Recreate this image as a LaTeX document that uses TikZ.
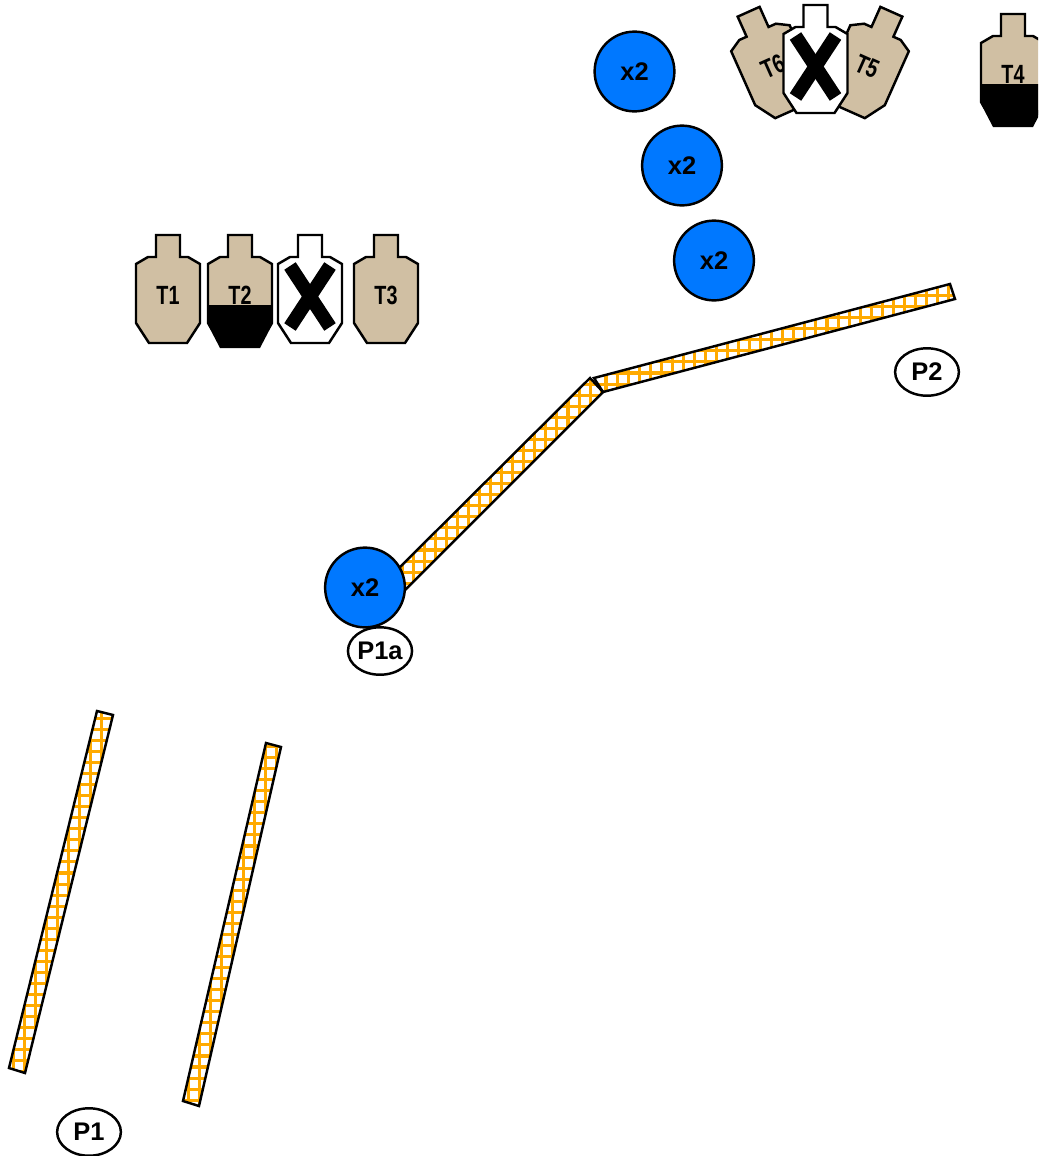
\documentclass[tikz,border=0pt]{standalone}
\usepackage{fontspec}
\setmainfont{Liberation Sans}
\usepackage{tikz}
\definecolor{targettan}{HTML}{D0BFA3}
\definecolor{barrelblue}{HTML}{0078FF}
\definecolor{wallorange}{HTML}{FFAA00}
\tikzset{
  outline/.style={draw=black,line width=1.4pt,line join=miter},
  barrel/.style={circle,outline,fill=barrelblue,minimum size=45.4pt,inner sep=0pt,font=\bfseries\fontsize{14.5}{15}\selectfont},
  position/.style={ellipse,outline,fill=white,minimum width=36.3pt,minimum height=27pt,inner sep=0pt,font=\bfseries\fontsize{14.5}{15}\selectfont},
  targetlabel/.style={inner sep=0pt,transform shape,font=\bfseries\fontsize{15}{16}\selectfont},
  wallgrid/.style={wallorange,line width=1.75pt},
}
\usetikzlibrary{shapes.geometric}
\newcommand{\targetshape}{(-12,-55) -- (12,-55) -- (12,-33) -- (20,-33) -- (32,-26) -- (32,33) -- (19,53) -- (-19,53) -- (-32,33) -- (-32,-26) -- (-20,-33) -- (-12,-33) -- cycle}
\newcommand{\blackshape}{(-32,15) -- (32,15) -- (32,35) -- (20,58) -- (-20,58) -- (-32,35) -- cycle}
\newcommand{\wallstrip}[3]{%
  \begin{scope}
    \clip #3;
    \begin{scope}[shift={(#1,#2)}]
      \foreach \gk in {-40,...,40} {
        \draw[wallgrid] ({\gk*11.05},-1500) -- ({\gk*11.05},1500);
        \draw[wallgrid] (-1500,{\gk*11.05}) -- (1500,{\gk*11.05});
      }
    \end{scope}
  \end{scope}
  \draw[outline] #3;}
\newcommand{\crossmark}{%
  \draw[line width=7.8pt] (-20,-24) -- (20,37);
  \draw[line width=7.8pt] (20,-24) -- (-20,37);}

\begin{document}
\begin{tikzpicture}[x=0.02cm,y=-0.02cm]
\clip (0,0) rectangle (1038,1156);

% Walls
\wallstrip{90.7}{718.3}{(97,711) -- (113,715) -- (25,1073) -- (9,1068) -- cycle}
\wallstrip{188.5}{1067}{(266,743) -- (281,747) -- (199,1106) -- (183,1101) -- cycle}
\wallstrip{413.3}{550}{(590,378) -- (603,392) -- (405,590) -- (391,576) -- cycle}
\wallstrip{606}{373}{(594,378) -- (950,284) -- (955,299) -- (603,392) -- cycle}

% Left targets
\begin{scope}[shift={(168,290)}]
\draw[outline,fill=targettan] \targetshape;
\node[targetlabel] (t1) at (0,5) {\scalebox{.75}[1]{T1}};
\end{scope}
\begin{scope}[shift={(240,290)}]
\draw[outline,fill=targettan] \targetshape;
\node[targetlabel] (t2) at (0,5) {\scalebox{.75}[1]{T2}};
\fill[black] \blackshape;
\end{scope}
\begin{scope}[shift={(310,290)}]
\draw[outline,fill=white] \targetshape;
\crossmark
\end{scope}
\begin{scope}[shift={(386,290)}]
\draw[outline,fill=targettan] \targetshape;
\node[targetlabel] (t3) at (0,5) {\scalebox{.75}[1]{T3}};
\end{scope}

% Top targets
\begin{scope}[shift={(771,62)},rotate=24]
\draw[outline,fill=targettan] \targetshape;
\node[targetlabel] (t6) at (0,5) {\scalebox{.75}[1]{T6}};
\end{scope}
\begin{scope}[shift={(869,62)},rotate=-24]
\draw[outline,fill=targettan] \targetshape;
\node[targetlabel] (t5) at (0,5) {\scalebox{.75}[1]{T5}};
\end{scope}
\begin{scope}[shift={(815.5,60)}]
\draw[outline,fill=white] \targetshape;
\crossmark
\end{scope}
\begin{scope}[shift={(1013,69)}]
\draw[outline,fill=targettan] \targetshape;
\node[targetlabel] (t4) at (0,5) {\scalebox{.75}[1]{T4}};
\fill[black] \blackshape;
\end{scope}

% Barrels
\node[barrel] (b1) at (634.5,71.5) {x2};
\node[barrel] (b2) at (682,165.5) {x2};
\node[barrel] (b3) at (714,260.5) {x2};
\node[barrel] (b4) at (365,587.5) {x2};

% Positions
\node[position] (p1) at (89,1132) {P1};
\node[position] (p1a) at (380,651) {P1a};
\node[position] (p2) at (927,372) {P2};
\end{tikzpicture}
\end{document}
